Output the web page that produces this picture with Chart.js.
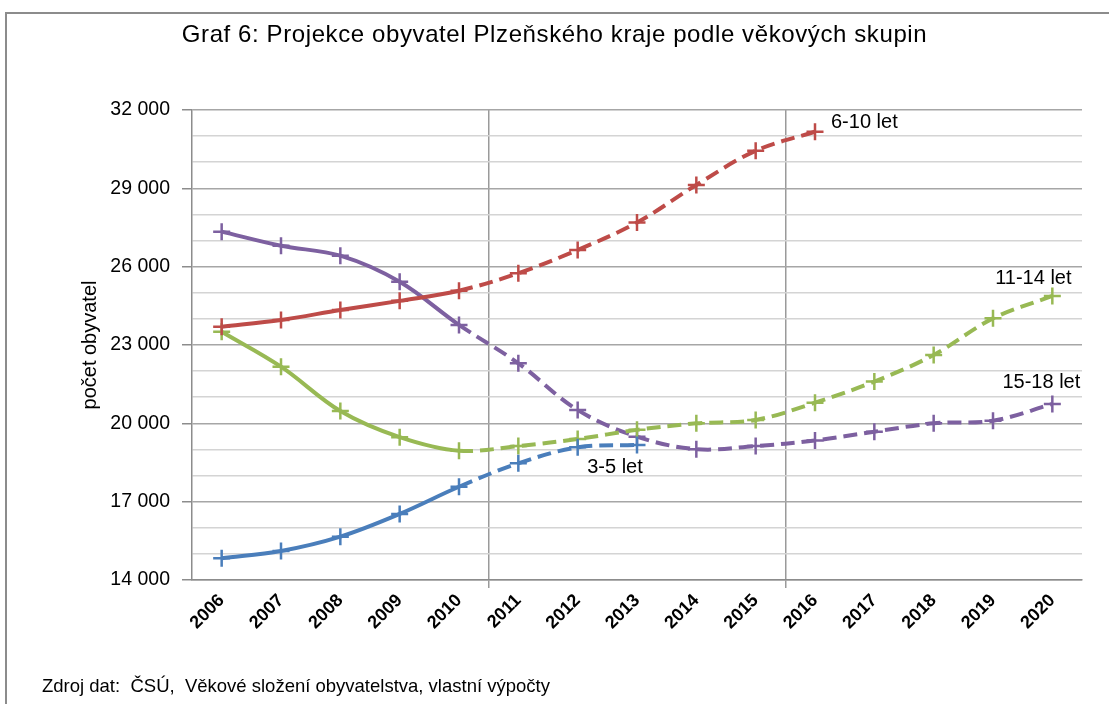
<!DOCTYPE html>
<html>
<head>
<meta charset="utf-8">
<script src="https://cdn.jsdelivr.net/npm/chart.js@4"></script>
<style>
  body { margin: 0; background: #fff; font-family: "Liberation Sans", Arial, sans-serif; }
  #frame { position: absolute; left: 5px; top: 12px; width: 1200px; height: 800px; border: 2px solid #8c8c8c; box-sizing: border-box; }
  #title { position: absolute; left: 0; width: 1109px; top: 20px; text-align: center; font-size: 24px; letter-spacing: 0.6px; color: #000; }
  #source { position: absolute; left: 42px; top: 675px; font-size: 18.5px; color: #000; }
  canvas { position: absolute; left: 0; top: 0; }
</style>
</head>
<body>
<div id="frame"></div>
<canvas id="chart" width="1109" height="704"></canvas>
<div id="title">Graf 6: Projekce obyvatel Plzeňského kraje podle věkových skupin</div>
<div id="source">Zdroj dat:&nbsp; ČSÚ,&nbsp; Věkové složení obyvatelstva, vlastní výpočty</div>
<script>
let years = ["2006", "2007", "2008", "2009", "2010", "2011", "2012", "2013", "2014", "2015", "2016", "2017", "2018", "2019", "2020"];
let names = ["3-5 let", "6-10 let", "11-14 let", "15-18 let"];
let age3to5 = [14830, 15110, 15660, 16530, 17570, 18470, 19080, 19170, null, null, null, null, null, null, null];
let age6to10 = [23700, 23960, 24340, 24690, 25080, 25750, 26640, 27690, 29130, 30440, 31170, null, null, null, null];
let age11to14 = [23510, 22170, 20470, 19470, 18950, 19130, 19400, 19750, 20000, 20130, 20790, 21600, 22620, 24020, 24880];
let age15to18 = [27340, 26800, 26420, 25420, 23770, 22300, 20510, 19490, 19010, 19130, 19340, 19680, 20000, 20100, 20740];
let lastReal = 4; // 2010 - potom projekce (carkovane)

let colors = ["#4A7EBB", "#BE4B48", "#98B954", "#7D60A0"];
// posun popisku od posledniho bodu
let labelOffset = [[-22, 22, "center"], [16, -9, "left"], [-19, -17, "center"], [-11, -22, "center"]];

let series = [age3to5, age6to10, age11to14, age15to18];
let datasets = [];
for (let i = 0; i < series.length; i++)
{
  datasets.push({
    label: names[i],
    data: series[i],
    borderColor: colors[i],
    backgroundColor: colors[i],
    borderWidth: 4,
    tension: 0.35,
    pointStyle: "cross",
    pointRadius: 8.5,
    pointBorderWidth: 2.5,
    pointHoverRadius: 8.5,
    segment: {
      borderDash: ctx => ctx.p0DataIndex >= lastReal ? [14, 7] : undefined
    }
  });
}

function fmt(v)
{
  return String(v).replace(/\B(?=(\d{3})+(?!\d))/g, " ");
}

let endLabels = {
  id: "endLabels",
  afterDatasetsDraw(chart) {
    let c = chart.ctx;
    c.save();
    c.font = "20px 'Liberation Sans', Arial, sans-serif";
    c.fillStyle = "#000";
    c.textBaseline = "middle";
    chart.data.datasets.forEach((ds, i) => {
      let meta = chart.getDatasetMeta(i);
      let idx = -1;
      for (let j = 0; j < ds.data.length; j++)
      {
        if (ds.data[j] != null) idx = j;
      }
      let pt = meta.data[idx];
      c.textAlign = labelOffset[i][2];
      c.fillText(ds.label, pt.x + labelOffset[i][0], pt.y + labelOffset[i][1]);
    });
    c.restore();
  }
};

let ctx = document.getElementById("chart").getContext("2d");
let chart = new Chart(ctx, {
  type: "line",
  data: {
    labels: years,
    datasets: datasets
  },
  plugins: [endLabels],
  options: {
    responsive: false,
    animation: false,
    layout: {
      padding: {left: 74, top: 110, right: 27, bottom: 44}
    },
    plugins: {
      legend: {display: false},
      tooltip: {enabled: false}
    },
    scales: {
      x: {
        offset: true,
        afterFit: s => { s.height = 80; },
        grid: {
          offset: true,
          color: c => (c.index == 5 || c.index == 10 || c.index == 15) ? "#9a9a9a" : "transparent",
          tickColor: c => (c.index == 5 || c.index == 10) ? "#9a9a9a" : "transparent",
          tickLength: 8,
          lineWidth: 1.5
        },
        border: {color: "#8c8c8c", width: 1.5},
        ticks: {
          color: "#000",
          minRotation: 45,
          maxRotation: 45,
          autoSkip: false,
          padding: 2,
          font: {family: "'Liberation Sans', Arial, sans-serif", size: 18, weight: "bold"}
        }
      },
      y: {
        min: 14000,
        max: 32000,
        afterFit: s => { s.width = 118; },
        grid: {
          color: c => ((c.tick.value - 14000) % 3000 == 0) ? "#a6a6a6" : "#d4d4d4",
          tickColor: c => ((c.tick.value - 14000) % 3000 == 0) ? "#8c8c8c" : "transparent",
          tickLength: 10,
          lineWidth: 1.5
        },
        border: {color: "#8c8c8c", width: 1.5},
        ticks: {
          stepSize: 1000,
          autoSkip: false,
          color: "#000",
          padding: 12,
          font: {family: "'Liberation Sans', Arial, sans-serif", size: 19.5},
          callback: v => ((v - 14000) % 3000 == 0) ? fmt(v) : ""
        },
        title: {
          display: true,
          text: "počet obyvatel",
          color: "#000",
          font: {family: "'Liberation Sans', Arial, sans-serif", size: 20}
        }
      }
    }
  }
});
</script>
</body>
</html>
